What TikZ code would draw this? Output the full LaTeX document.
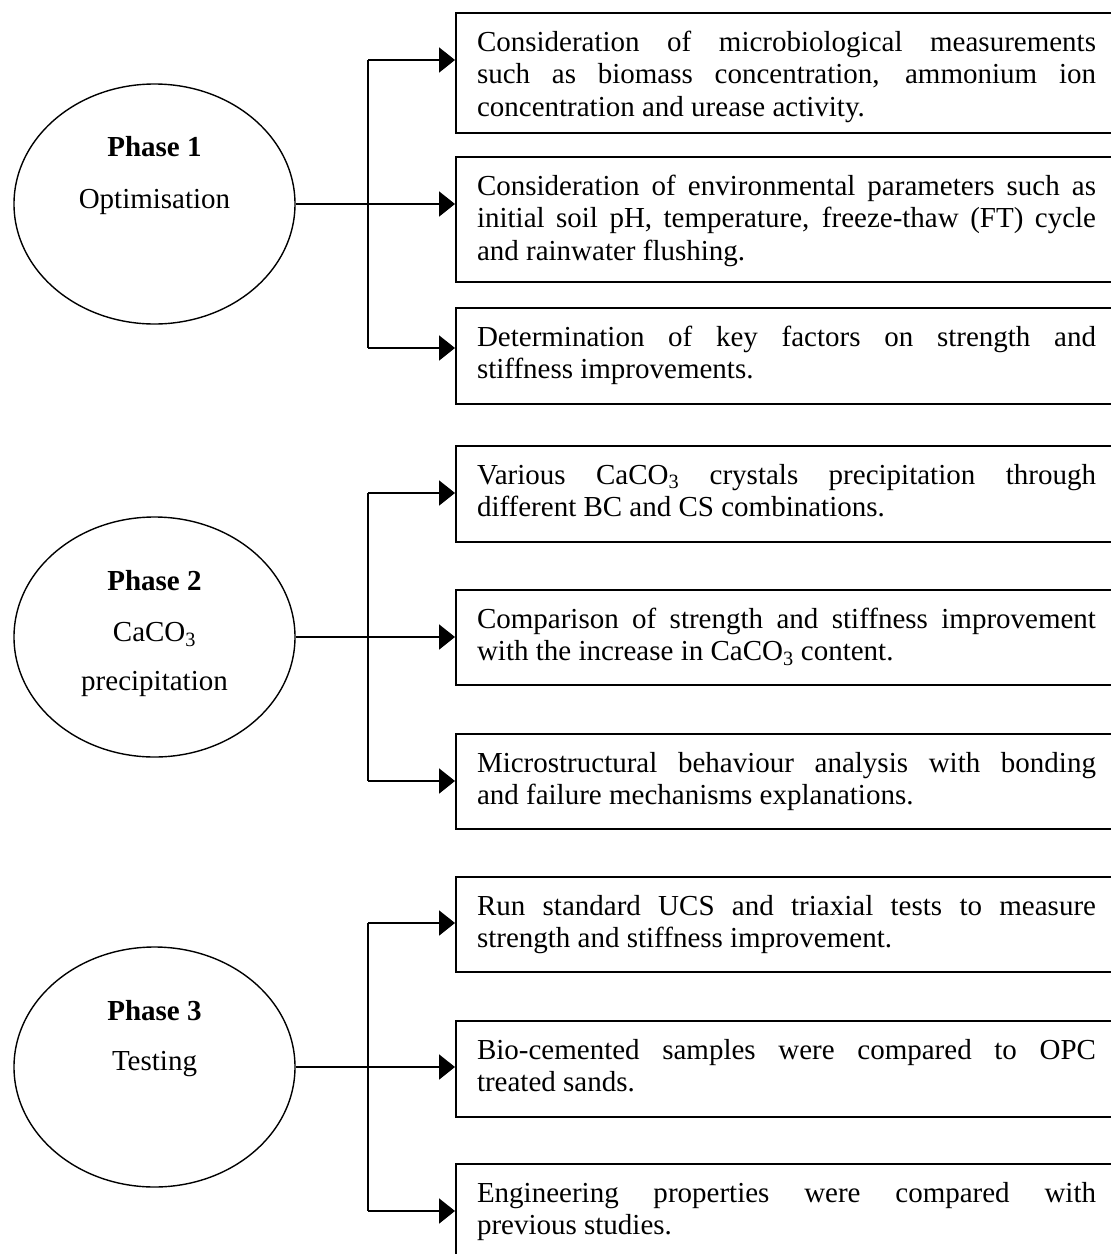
\documentclass[tikz,border=0pt]{standalone}
\usepackage{fontspec}
\setmainfont{Liberation Serif}
\usetikzlibrary{shapes.geometric,arrows.meta}
\hyphenpenalty=10000
\exhyphenpenalty=10000
\tolerance=9999
\tikzset{
  phase/.style={ellipse, draw, line width=1.4pt, minimum width=281pt, minimum height=240pt, inner sep=0pt},
  ptext/.style={anchor=base, inner sep=0pt, font=\fontsize{29}{32.5}\selectfont},
  info/.style={draw, line width=2pt, anchor=north west, text width=619pt, align=justify,
    inner xsep=21pt, inner ysep=19pt, text height=19pt, font=\fontsize{29}{32.5}\selectfont},
  conn/.style={line width=2pt},
  arr/.style={conn, -{Triangle[length=16pt,width=25pt]}},
}
\begin{document}
\begin{tikzpicture}[x=1pt,y=-1pt]
\fill[white] (0,0) rectangle (1111,1254);
\useasboundingbox (0,0) rectangle (1111,1254);

% ---------- Phase 1 ----------
\node[phase] (e1) at (154.5,204) {};
\node[ptext] (p1) at (154.5,156.7) {\textbf{Phase 1}};
\node[ptext] (q1) at (154.5,208.3) {Optimisation};
\node[info, text depth=63pt] (b11) at (455,12) {Consideration of microbiological measurements\linebreak such as biomass concentration, ammonium ion\linebreak concentration and urease activity.};
\node[info, text depth=68pt] (b12) at (455,156) {Consideration of environmental parameters such as\linebreak initial soil pH, temperature, freeze-thaw (FT) cycle\linebreak and rainwater flushing.};
\node[info, text depth=39pt] (b13) at (455,307) {Determination of key factors on strength and\linebreak stiffness improvements.};
\coordinate (j1a) at (368,60);
\coordinate (j1c) at (368,348);
\draw[conn] (j1a) -- (j1c);
\draw[arr] (e1.east) -- (e1.east -| b12.west);
\draw[arr] (j1a) -- (j1a -| b11.west);
\draw[arr] (j1c) -- (j1c -| b13.west);

% ---------- Phase 2 ----------
\node[phase] (e2) at (154.5,637) {};
\node[ptext] (p2) at (154.5,590) {\textbf{Phase 2}};
\node[ptext] (q2) at (154.5,641.7) {CaCO\textsubscript{3}};
\node[ptext] (r2) at (154.5,690) {precipitation};
\node[info, text depth=39pt] (b21) at (455,445) {Various CaCO\textsubscript{3} crystals precipitation through\linebreak different BC and CS combinations.};
\node[info, text depth=38pt] (b22) at (455,589) {Comparison of strength and stiffness improvement\linebreak with the increase in CaCO\textsubscript{3} content.};
\node[info, text depth=38pt] (b23) at (455,733) {Microstructural behaviour analysis with bonding\linebreak and failure mechanisms explanations.};
\coordinate (j2a) at (368,493);
\coordinate (j2c) at (368,781);
\draw[conn] (j2a) -- (j2c);
\draw[arr] (e2.east) -- (e2.east -| b22.west);
\draw[arr] (j2a) -- (j2a -| b21.west);
\draw[arr] (j2c) -- (j2c -| b23.west);

% ---------- Phase 3 ----------
\node[phase] (e3) at (154.5,1067) {};
\node[ptext] (p3) at (154.5,1020.7) {\textbf{Phase 3}};
\node[ptext] (q3) at (154.5,1070.7) {Testing};
\node[info, text depth=38pt] (b31) at (455,876) {Run standard UCS and triaxial tests to measure\linebreak strength and stiffness improvement.};
\node[info, text depth=39pt] (b32) at (455,1020) {Bio-cemented samples were compared to OPC\linebreak treated sands.};
\node[info, text depth=39pt] (b33) at (455,1163) {Engineering properties were compared with\linebreak previous studies.};
\coordinate (j3a) at (368,923);
\coordinate (j3c) at (368,1211);
\draw[conn] (j3a) -- (j3c);
\draw[arr] (e3.east) -- (e3.east -| b32.west);
\draw[arr] (j3a) -- (j3a -| b31.west);
\draw[arr] (j3c) -- (j3c -| b33.west);
\end{tikzpicture}
\end{document}
